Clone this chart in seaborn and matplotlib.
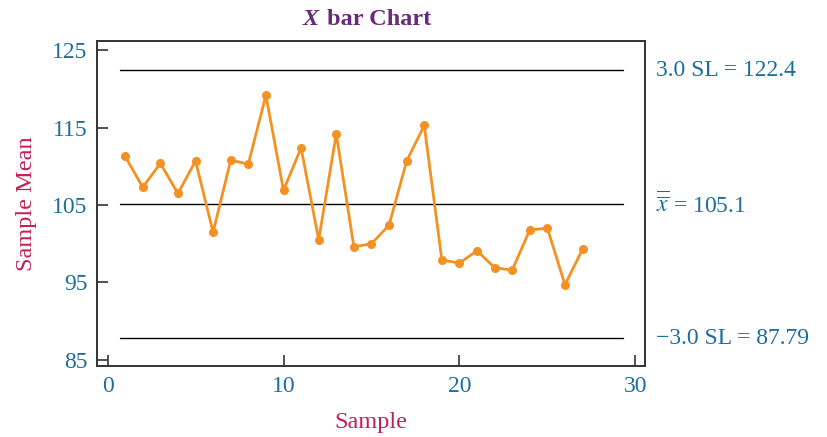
import numpy as np
import pandas as pd
import matplotlib
matplotlib.use("Agg")
import matplotlib.pyplot as plt
import seaborn as sns

# sample means
samples = list(range(1, 28))
means = [111.3, 107.3, 110.4, 106.5, 110.7, 101.5, 110.8, 110.3, 119.2, 106.9,
         112.4, 100.5, 114.2, 99.6, 100.0, 102.4, 110.7, 115.3, 97.9, 97.5,
         99.1, 96.9, 96.6, 101.8, 102.0, 94.7, 99.3]

# control limits
ucl = 122.4
center = 105.1
lcl = 87.79
limit_labels = ["3.0 SL = 122.4", r"$\overline{\overline{x}}$ = 105.1", "\u22123.0 SL = 87.79"]

y_ticks = [85, 95, 105, 115, 125]
x_ticks = [0, 10, 20, 30]

orange = "#F39222"
blue = "#1C6E9E"
crimson = "#C41E58"
purple = "#6A2A78"

sns.set_style("ticks")
plt.rcParams["font.family"] = ["Liberation Serif", "DejaVu Serif"]
plt.rcParams["mathtext.fontset"] = "stix"

df = pd.DataFrame({"Sample": samples, "Mean": means})

fig = plt.figure(figsize=(8.27, 4.37), dpi=100)
ax = fig.add_axes([0.1173, 0.1625, 0.6627, 0.7435])

# control lines
for val in [ucl, center, lcl]:
    ax.plot([0.7, 29.3], [val, val], color="black", lw=1.0, zorder=1)

sns.lineplot(data=df, x="Sample", y="Mean", ax=ax, color=orange, lw=2,
             marker="o", markersize=6.5, markeredgewidth=0, zorder=3)

ax.set_xlim(-0.6, 30.55)
ax.set_ylim(84.2, 126.2)
ax.set_xticks(x_ticks)
ax.set_yticks(y_ticks)
ax.tick_params(direction="in", length=8, width=1.2, colors="#333333",
               labelsize=17, labelcolor=blue, pad=7)
for s in ax.spines.values():
    s.set_visible(True)
    s.set_color("#333333")
    s.set_linewidth(1.4)

ax.set_xlabel("Sample", fontsize=17.5, color=crimson, labelpad=11)
ax.set_ylabel("Sample Mean", fontsize=17.5, color=crimson, labelpad=11)

# limit labels on the right
for val, lab in zip([ucl, center, lcl], limit_labels):
    ax.annotate(lab, xy=(1, val), xycoords=("axes fraction", "data"),
                xytext=(8, 0), textcoords="offset points",
                ha="left", va="center", fontsize=17, color=blue)

# title: italic X + bold text
fig.text(0.366, 0.956, "X", fontsize=17.5, fontweight="bold", style="italic",
         color=purple, ha="left", va="center")
fig.text(0.395, 0.956, "bar Chart", fontsize=17.5, fontweight="bold",
         color=purple, ha="left", va="center")

fig.savefig("out.png", dpi=100)
